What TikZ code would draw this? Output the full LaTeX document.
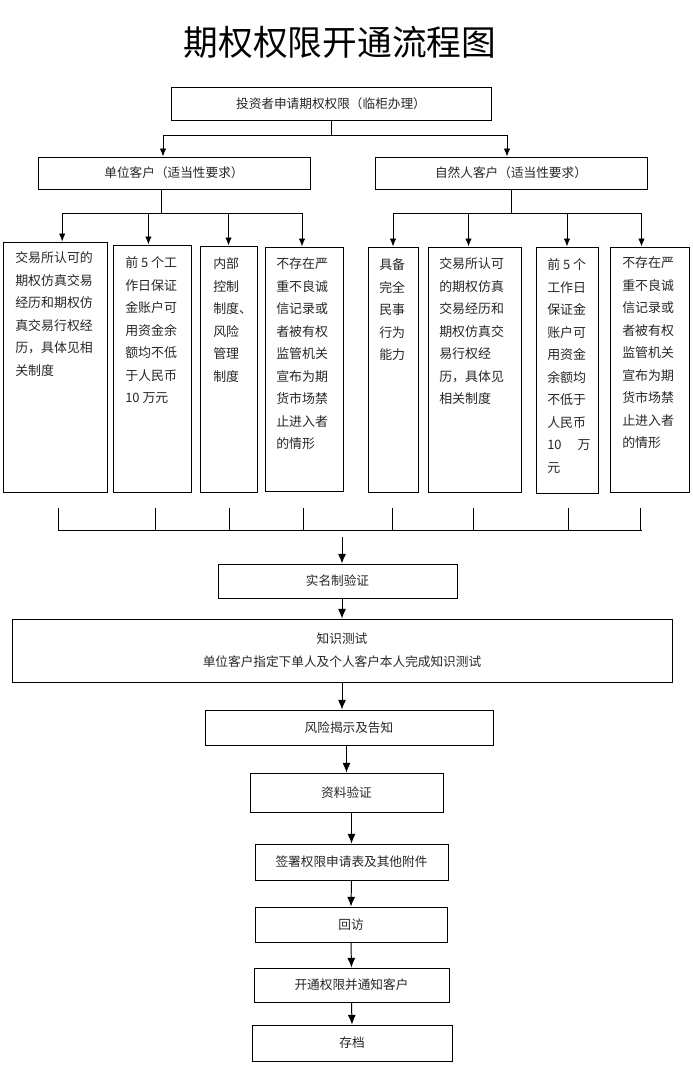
\documentclass[tikz,border=0pt]{standalone}
\usepackage{fontspec}
\setmainfont{Noto Sans CJK SC}
\usetikzlibrary{arrows.meta,positioning,calc}

\begin{document}
\begin{tikzpicture}[
  x=0.25mm, y=-0.25mm,
  every node/.style={text=black!85},
  box/.style={draw=black, line width=0.7pt, inner sep=0pt, align=center, font=\fontsize{9}{16.3}\selectfont},
  col/.style={draw=black, line width=0.7pt, inner sep=0pt},
  coltext/.style={anchor=north west, inner sep=0pt, align=left, font=\fontsize{9.2}{16}\selectfont},
  link/.style={line width=0.6pt},
  arrow/.style={-{Latex[length=2mm, width=1.6mm]}, line width=0.6pt},
  bigarrow/.style={-{Latex[length=2.4mm, width=2mm]}, line width=0.7pt}
]
\useasboundingbox (0,0) rectangle (693,1067);

% title
\node[font=\fontsize{24.7}{30}\selectfont, text=black] (title) at (340,42) {期权权限开通流程图};

% top
\node[box, minimum width=80mm, minimum height=8.25mm] (top) at (331,103.5) {投资者申请期权权限（临柜办理）};
\node[box, minimum width=68mm, minimum height=8mm] (unit) at (174,173) {单位客户（适当性要求）};
\node[box, minimum width=68mm, minimum height=8mm] (person) at (511,173) {自然人客户（适当性要求）};

% columns
\node[col, minimum width=26mm, minimum height=62.5mm] (c1) at (55,367) {};
\node[col, minimum width=19.5mm, minimum height=61.75mm] (c2) at (152,368.5) {};
\node[col, minimum width=14.25mm, minimum height=61.5mm] (c3) at (228.5,369) {};
\node[col, minimum width=19.5mm, minimum height=61mm] (c4) at (304,369) {};
\node[col, minimum width=12.5mm, minimum height=61.25mm] (c5) at (393,369.5) {};
\node[col, minimum width=23.25mm, minimum height=61.25mm] (c6) at (474.5,369.5) {};
\node[col, minimum width=15.5mm, minimum height=61.5mm] (c7) at (567,370) {};
\node[col, minimum width=19.75mm, minimum height=61.25mm] (c8) at (649.5,369.5) {};

\node[coltext] (t1) at (15,251.5) {交易所认可的\\期权仿真交易\\经历和期权仿\\真交易行权经\\历，具体见相\\关制度};
\node[coltext] (t2) at (125,256.5) {前 5 个工\\作日保证\\金账户可\\用资金余\\额均不低\\于人民币\\10 万元};
\node[coltext] (t3) at (213,257.5) {内部\\控制\\制度、\\风险\\管理\\制度};
\node[coltext] (t4) at (276,257.5) {不存在严\\重不良诚\\信记录或\\者被有权\\监管机关\\宣布为期\\货市场禁\\止进入者\\的情形};
\node[coltext] (t5) at (379,258.5) {具备\\完全\\民事\\行为\\能力};
\node[coltext] (t6) at (439,257.5) {交易所认可\\的期权仿真\\交易经历和\\期权仿真交\\易行权经\\历，具体见\\相关制度};
\node[coltext] (t7) at (547,258.5) {前 5 个\\工作日\\保证金\\账户可\\用资金\\余额均\\不低于\\人民币\\10\hspace{4mm}万\\元};
\node[coltext] (t8) at (622,256.5) {不存在严\\重不良诚\\信记录或\\者被有权\\监管机关\\宣布为期\\货市场禁\\止进入者\\的情形};

% steps
\node[box, minimum width=59.75mm, minimum height=8.5mm] (real) at (337.5,581) {实名制验证};
\node[box, minimum width=165mm, minimum height=15.75mm] (know) at (342,650.5) {知识测试\\单位客户指定下单人及个人客户本人完成知识测试};
\node[box, minimum width=72mm, minimum height=8.75mm] (risk) at (349,727.5) {风险揭示及告知};
\node[box, minimum width=48.25mm, minimum height=9.75mm] (data) at (346.5,792.5) {资料验证};
\node[box, minimum width=48.25mm, minimum height=9mm] (sign) at (351.5,862) {签署权限申请表及其他附件};
\node[box, minimum width=48mm, minimum height=8.75mm] (visit) at (351,924.5) {回访};
\node[box, minimum width=48.75mm, minimum height=8.5mm] (open) at (351.5,985) {开通权限并通知客户};
\node[box, minimum width=50mm, minimum height=9mm] (archive) at (352,1043) {存档};

% branches
\draw[link] (top.south) -- ++(0,15) coordinate (topsplit);
\draw[arrow] (topsplit) -| ([xshift=-2.75mm]unit.north);
\draw[arrow] (topsplit) -| ([xshift=-1mm]person.north);

\draw[link] ([xshift=-3.25mm]unit.south) -- ++(0,24) coordinate (unitsplit);
\foreach \c/\s in {c1/1.8mm, c2/-0.9mm, c3/0mm, c4/-0.5mm}
  \draw[arrow] (unitsplit) -| ([xshift=\s]\c.north);

\draw[link] (person.south) -- ++(0,24) coordinate (personsplit);
\foreach \c/\s in {c5/0mm, c6/-1.5mm, c7/0mm, c8/-2mm}
  \draw[arrow] (personsplit) -| ([xshift=\s]\c.north);

% bracket
\coordinate (barl) at (58,530);
\coordinate (barr) at (642,530);
\draw[link] (barl) -- (barr);
\foreach \x in {58,155,229,303,392,473,568,640}
  \draw[link] (\x,508) -- (\x,530);

% chain
\coordinate (barout) at (342,537);
\draw[bigarrow] (barout) -- (barout |- real.north);
\draw[bigarrow] (know.north |- real.south) -- (know.north);
\draw[bigarrow] (know.south) -- (know.south |- risk.north);
\draw[bigarrow] (data.north |- risk.south) -- (data.north);
\draw[bigarrow] (sign.north |- data.south) -- (sign.north);
\draw[bigarrow] (sign.south) -- (visit.north);
\draw[bigarrow] (visit.south) -- (open.north);
\draw[bigarrow] (open.south) -- (archive.north);
\end{tikzpicture}
\end{document}
